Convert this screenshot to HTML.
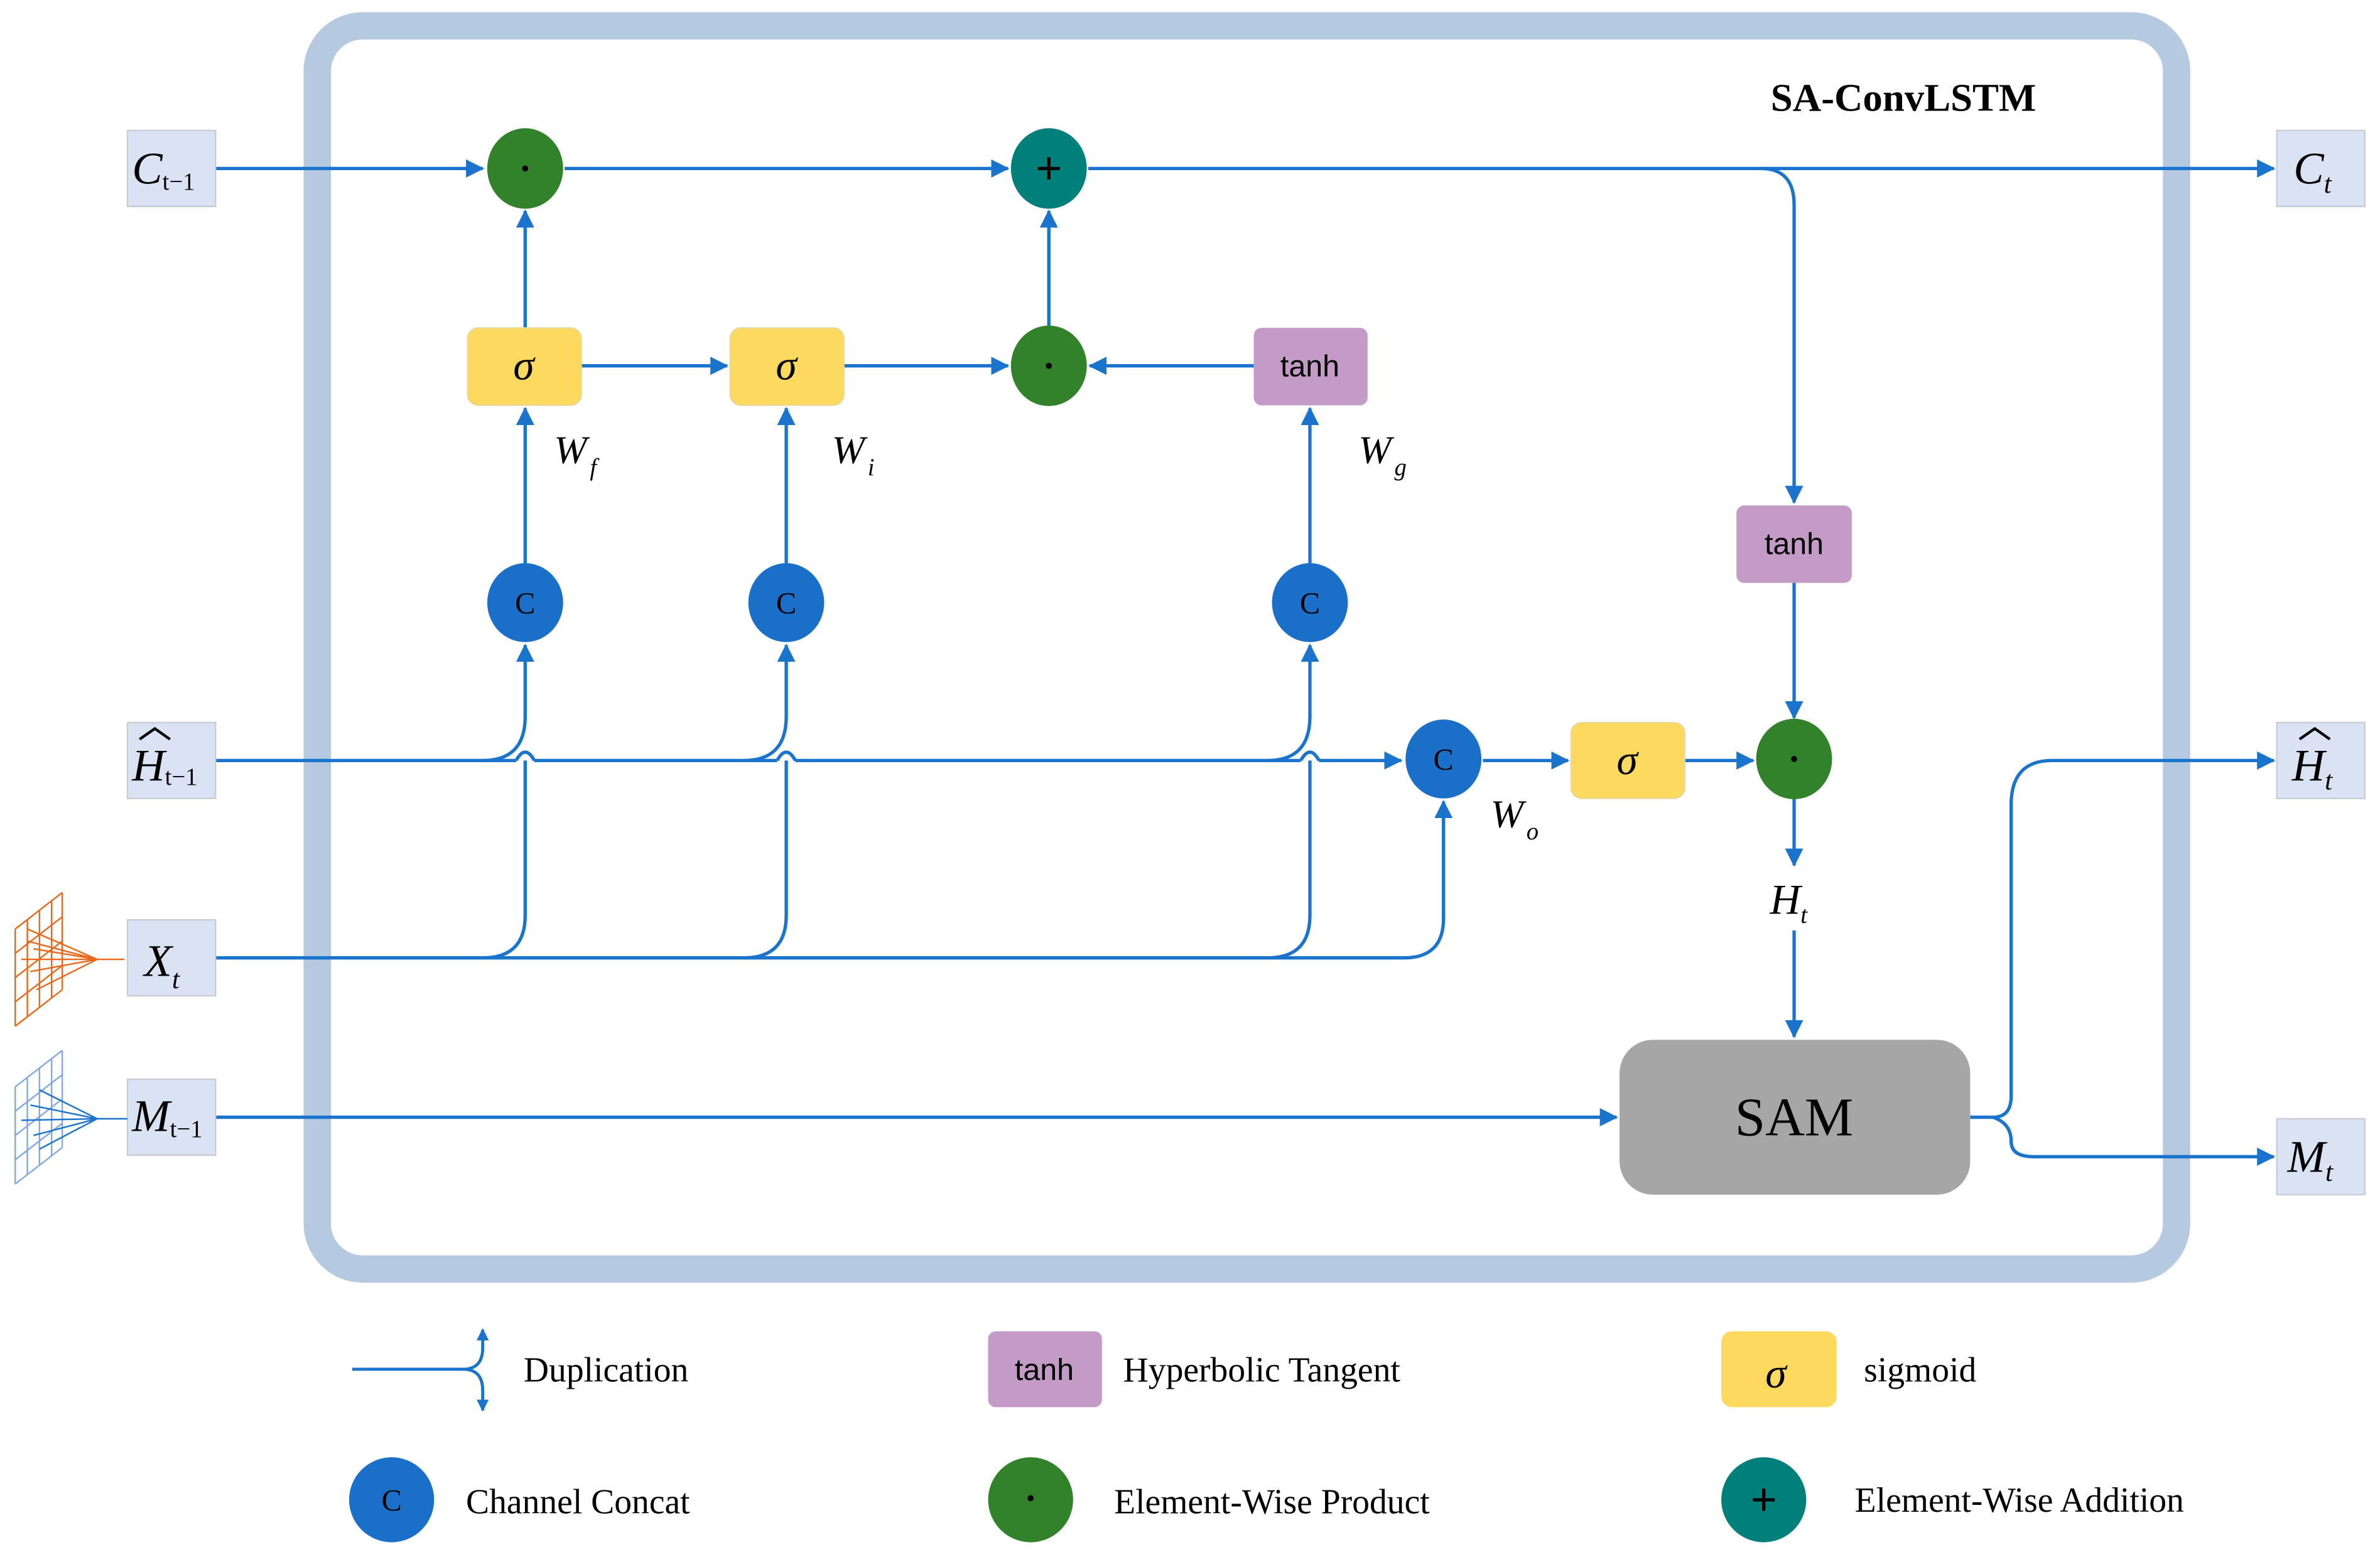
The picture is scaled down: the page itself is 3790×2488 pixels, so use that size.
<!DOCTYPE html>
<html><head><meta charset="utf-8"><style>html,body{margin:0;padding:0;background:#fff}svg{display:block}</style></head>
<body>
<svg width="3790" height="2488" viewBox="0 0 1568 1029" preserveAspectRatio="none" xmlns="http://www.w3.org/2000/svg" font-family="Liberation Serif, serif">
<defs>
<marker id="a" markerWidth="8" markerHeight="8" refX="7" refY="4" orient="auto" markerUnits="userSpaceOnUse" viewBox="0 0 8 8"><path d="M0,0 L8,4 L0,8 z" fill="#1a73cc"/></marker>
<marker id="b" markerWidth="12" markerHeight="12" refX="11" refY="6" orient="auto" markerUnits="userSpaceOnUse" viewBox="0 0 12 12"><path d="M0,0 L12,6 L0,12 z" fill="#1a73cc"/></marker>
</defs>
<rect x="209" y="17" width="1225" height="819" rx="30" fill="none" stroke="#b5c9e0" stroke-width="18"/>
<text x="1254" y="73" font-size="26" font-weight="bold" text-anchor="middle">SA-ConvLSTM</text>

<g stroke="#1a73cc" stroke-width="2.2" fill="none">
<path d="M142 111 H318" marker-end="url(#b)"/>
<path d="M372 111 H664" marker-end="url(#b)"/>
<path d="M717 111 H1498" marker-end="url(#b)"/>
<path d="M1160 111 Q1182 111 1182 135 V331" marker-end="url(#b)"/>
<path d="M346 216 V139" marker-end="url(#b)"/>
<path d="M346 371 V269" marker-end="url(#b)"/>
<path d="M518 371 V269" marker-end="url(#b)"/>
<path d="M863 371 V269" marker-end="url(#b)"/>
<path d="M383 241 H479" marker-end="url(#b)"/>
<path d="M556 241 H664" marker-end="url(#b)"/>
<path d="M826 241 H718" marker-end="url(#b)"/>
<path d="M691 215 V139" marker-end="url(#b)"/>
<path d="M142 501 H340 M352 501 H512 M524 501 H857 M869 501 H923" marker-end="url(#b)"/>
<path d="M340 501 Q346 490 352 501 M512 501 Q518 490 524 501 M857 501 Q863 490 869 501"/>
<path d="M318 501 Q346 501 346 472 V425" marker-end="url(#b)"/>
<path d="M490 501 Q518 501 518 472 V425" marker-end="url(#b)"/>
<path d="M835 501 Q863 501 863 472 V425" marker-end="url(#b)"/>
<path d="M142 631 H925 Q951 631 951 605 V528" marker-end="url(#b)"/>
<path d="M318 631 Q346 631 346 603 V501"/>
<path d="M490 631 Q518 631 518 603 V501"/>
<path d="M835 631 Q863 631 863 603 V501"/>
<path d="M977 501 H1033" marker-end="url(#b)"/>
<path d="M1110 501 H1155" marker-end="url(#b)"/>
<path d="M1182 384 V473" marker-end="url(#b)"/>
<path d="M1182 526 V570" marker-end="url(#b)"/>
<path d="M1182 613 V683" marker-end="url(#b)"/>
<path d="M142 736 H1065" marker-end="url(#b)"/>
<path d="M1298 736 H1313 Q1325 736 1325 722 V530 Q1325 501 1352 501 H1498" marker-end="url(#b)"/>
<path d="M1313 736 Q1325 740 1325 752 Q1325 762 1340 762 H1498" marker-end="url(#b)"/>
</g>

<g>
<ellipse cx="346" cy="111" rx="25" ry="26.5" fill="#31822b"/><circle cx="346" cy="111" r="2" fill="#000"/>
<ellipse cx="691" cy="111" rx="25" ry="26.5" fill="#017f7b"/><text x="691" y="121" font-size="30" text-anchor="middle" font-family="Liberation Sans, sans-serif">+</text>
<ellipse cx="691" cy="241" rx="25" ry="26.5" fill="#31822b"/><circle cx="691" cy="241" r="2" fill="#000"/>
<ellipse cx="1182" cy="500" rx="25" ry="26.5" fill="#31822b"/><circle cx="1182" cy="500" r="2" fill="#000"/>
<rect x="308" y="216" width="75" height="51" rx="7" fill="#fed960" stroke="#e5d7a0" stroke-width="0.8"/>
<rect x="481" y="216" width="75" height="51" rx="7" fill="#fed960" stroke="#e5d7a0" stroke-width="0.8"/>
<rect x="1035" y="476" width="75" height="50" rx="7" fill="#fed960" stroke="#e5d7a0" stroke-width="0.8"/>
<text x="345" y="250" font-size="28" font-style="italic" text-anchor="middle">σ</text>
<text x="518" y="250" font-size="28" font-style="italic" text-anchor="middle">σ</text>
<text x="1072" y="510" font-size="28" font-style="italic" text-anchor="middle">σ</text>
<rect x="826" y="216" width="75" height="51" rx="5" fill="#c49bc6"/>
<text x="863" y="248" font-size="20" text-anchor="middle" font-family="Liberation Sans, sans-serif">tanh</text>
<rect x="1144" y="333" width="76" height="51" rx="5" fill="#c49bc6"/>
<text x="1182" y="365" font-size="20" text-anchor="middle" font-family="Liberation Sans, sans-serif">tanh</text>
<g fill="#1a6fc9">
<ellipse cx="346" cy="397" rx="25" ry="26"/><ellipse cx="518" cy="397" rx="25" ry="26"/><ellipse cx="863" cy="397" rx="25" ry="26"/><ellipse cx="951" cy="500" rx="25" ry="26"/>
</g>
<g font-size="20" text-anchor="middle" fill="#000">
<text x="346" y="404">C</text><text x="518" y="404">C</text><text x="863" y="404">C</text><text x="951" y="507">C</text>
</g>
<rect x="1067" y="685" width="231" height="102" rx="22" fill="#a6a6a6"/>
<text x="1182" y="748" font-size="36" text-anchor="middle">SAM</text>
</g>

<g font-style="italic" font-size="26">
<text x="365" y="305">W<tspan font-size="16" dx="2" dy="8">f</tspan></text>
<text x="548" y="305">W<tspan font-size="16" dx="2" dy="8">i</tspan></text>
<text x="895" y="305">W<tspan font-size="16" dx="2" dy="8">g</tspan></text>
<text x="982" y="545">W<tspan font-size="16" dx="2" dy="8">o</tspan></text>
<text x="1166" y="602" font-size="28">H<tspan font-size="16" dy="6">t</tspan></text>
</g>

<g fill="#dae3f3" stroke="#c9ced6" stroke-width="1">
<rect x="84" y="86" width="58" height="50"/><rect x="84" y="476" width="58" height="50"/>
<rect x="84" y="606" width="58" height="50"/><rect x="84" y="711" width="58" height="50"/>
<rect x="1500" y="86" width="58" height="50"/><rect x="1500" y="476" width="58" height="50"/>
<rect x="1500" y="737" width="58" height="50"/>
</g>
<g font-style="italic" font-size="30">
<text x="87" y="121">C<tspan font-size="16" font-style="normal" dy="4">t−1</tspan></text>
<text x="87" y="514">H<tspan font-size="16" font-style="normal" dy="3">t−1</tspan></text>
<text x="95" y="643">X<tspan font-size="18" dy="8">t</tspan></text>
<text x="87" y="745">M<tspan font-size="16" font-style="normal" dy="4">t−1</tspan></text>
<text x="1511" y="121">C<tspan font-size="18" dy="6">t</tspan></text>
<text x="1510" y="514">H<tspan font-size="18" dy="6">t</tspan></text>
<text x="1507" y="772">M<tspan font-size="18" dy="6">t</tspan></text>
</g>
<g stroke="#000" stroke-width="1.8" fill="none">
<path d="M92 487 L102 480 L112 487"/>
<path d="M1515 487 L1525 480 L1535 487"/>
</g>

<g stroke="#e8691c" stroke-width="1" fill="none">
<path d="M10 612 L41 588 M10 628 L41 604 M10 644 L41 620 M10 660 L41 636 M10 676 L41 652 M10 612 V676 M18 606 V670 M26 600 V664 M34 594 V658 M41 588 V652"/>
<path d="M64 632 L18 612 M64 632 L22 625 M64 632 L14 632 M64 632 L20 640 M64 632 L24 652 M64 632 L18 620 M64 632 L82 632"/>
</g>
<g stroke="#84a9e0" stroke-width="1" fill="none">
<path d="M10 716 L41 692 M10 732 L41 708 M10 748 L41 724 M10 764 L41 740 M10 780 L41 756 M10 716 V780 M18 710 V774 M26 704 V768 M34 698 V762 M41 692 V756"/>
<path d="M64 737 L26 718 M64 737 L20 728 M64 737 L14 738 M64 737 L22 748 M64 737 L26 757 M64 737 L84 737" stroke="#1a73cc"/>
</g>

<g stroke="#1a73cc" stroke-width="2" fill="none">
<path d="M232 902 H305 Q318 902 318 888 V876" marker-end="url(#a)"/>
<path d="M305 902 Q318 902 318 916 V929" marker-end="url(#a)"/>
</g>
<g font-size="23">
<text x="345" y="910">Duplication</text>
<rect x="651" y="877" width="75" height="50" rx="5" fill="#c49bc6"/>
<text x="688" y="909" font-size="20" text-anchor="middle" font-family="Liberation Sans, sans-serif">tanh</text>
<text x="740" y="910">Hyperbolic Tangent</text>
<rect x="1134" y="877" width="76" height="50" rx="7" fill="#fed960"/>
<text x="1170" y="914" font-size="28" font-style="italic" text-anchor="middle">σ</text>
<text x="1228" y="910">sigmoid</text>
<ellipse cx="258" cy="988" rx="28" ry="28" fill="#1a6fc9"/>
<text x="258" y="995" font-size="20" text-anchor="middle">C</text>
<text x="307" y="997">Channel Concat</text>
<ellipse cx="679" cy="988" rx="28" ry="28" fill="#31822b"/><circle cx="679" cy="987" r="2" fill="#000"/>
<text x="734" y="997">Element-Wise Product</text>
<ellipse cx="1162" cy="988" rx="28" ry="28" fill="#017f7b"/>
<text x="1162" y="998" font-size="30" text-anchor="middle" font-family="Liberation Sans, sans-serif">+</text>
<text x="1222" y="996">Element-Wise Addition</text>
</g>
</svg>
</body></html>
